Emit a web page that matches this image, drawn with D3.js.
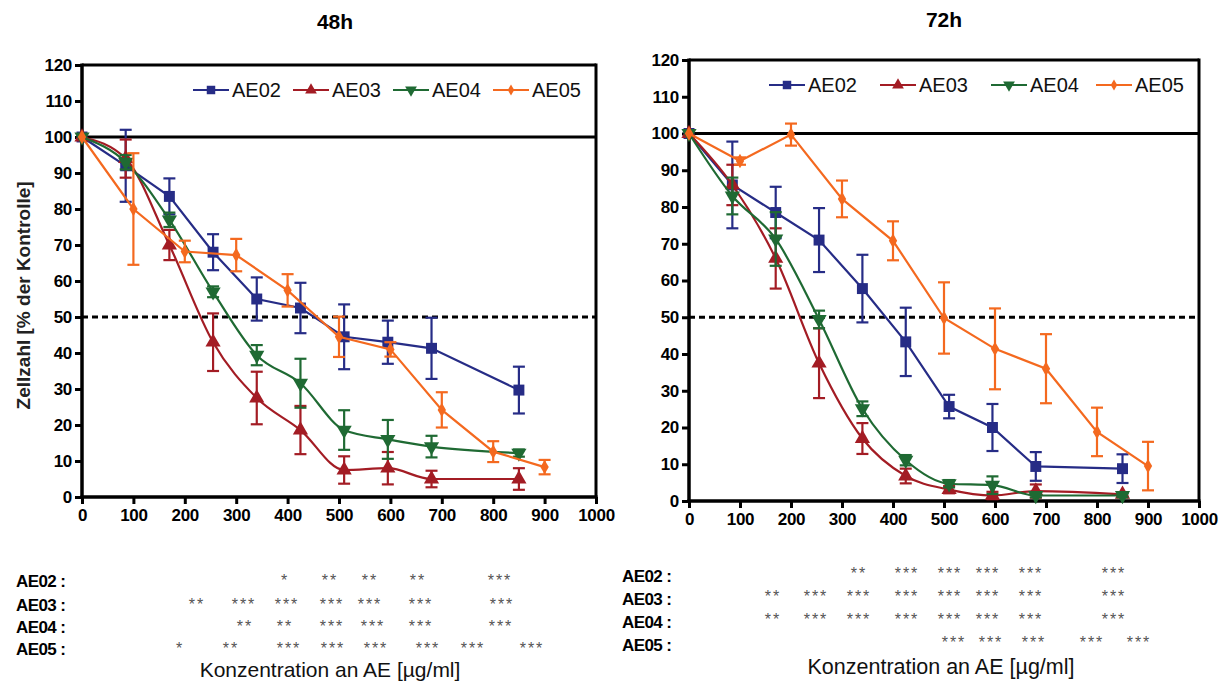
<!DOCTYPE html>
<html><head><meta charset="utf-8">
<script src="https://cdn.jsdelivr.net/npm/d3@7"></script>
<style>
body{margin:0;background:#fff;}
svg{display:block;font-family:"Liberation Sans",Arial,Helvetica,sans-serif;}
</style></head>
<body><svg id="c" width="1232" height="684"></svg>
<script>
// ---------------- DATA ----------------
const seriesNames = ["AE02","AE03","AE04","AE05"];
const concA = [0,85,170,255,340,425,510,595,680,850];   // AE02, AE03, AE04
const concB = [0,100,200,300,400,500,600,700,800,900];  // AE05
const yTicks = [0,10,20,30,40,50,60,70,80,90,100,110,120];
const xTicks = [0,100,200,300,400,500,600,700,800,900,1000];

// 48h
const h48_AE02 = [100,92,83.5,68,55,52.5,44.5,43,41.3,29.7];
const h48_AE02_sd = [0,10,5,5,6,7,9,6,8.5,6.5];
const h48_AE03 = [100,94,70,43,27.5,18.6,7.5,8,5,5];
const h48_AE03_sd = [0,5.3,4.2,8,7.3,6.7,3.8,4.5,2.3,3];
const h48_AE04 = [100,93,77,57,39.4,31.6,18.6,16,14,12.2];
const h48_AE04_sd = [0,2,2,1.5,2.8,6.8,5.5,5.4,3,1];
const h48_AE05 = [100,80,68.2,67.2,57.4,44.5,41,24.2,12.6,8.3];
const h48_AE05_sd = [0,15.5,3,4.5,4.5,5.6,2,4.9,2.9,2];

// 72h
const h72_AE02 = [100,86,78.5,71,57.8,43.3,25.7,20,9.4,8.8];
const h72_AE02_sd = [0,11.8,7,8.7,9.2,9.3,3.2,6.4,3.9,3.9];
const h72_AE03 = [100,86,66,37.5,17,6.8,3.1,1.5,2.7,1.8];
const h72_AE03_sd = [0,5.5,8.2,9.5,4.2,2,1,1,1.8,0.5];
const h72_AE04 = [100,83,71.3,49.4,25.1,11.1,4.7,4.3,1.5,1.5];
const h72_AE04_sd = [0,5,7.3,2.4,2,1.4,1,2.4,0.5,0.5];
const h72_AE05 = [100,92.5,99.7,82.2,70.8,49.8,41.4,36,18.8,9.5];
const h72_AE05_sd = [0,1,3,5,5.3,9.7,11,9.4,6.6,6.6];

// significance (stars per row, in table order)
const sig48_AE02 = ["*","**","**","**","***"];
const sig48_AE03 = ["**","***","***","***","***","***","***"];
const sig48_AE04 = ["**","**","***","***","***","***"];
const sig48_AE05 = ["*","**","***","***","***","***","***","***"];
const sig72_AE02 = ["**","***","***","***","***","***"];
const sig72_AE03 = ["**","***","***","***","***","***","***","***"];
const sig72_AE04 = ["**","***","***","***","***","***","***","***"];
const sig72_AE05 = ["***","***","***","***","***"];

const titles = ["48h","72h"];
const yLabel = "Zellzahl [% der Kontrolle]";
const xLabel = "Konzentration an AE [µg/ml]";

// ---------------- STYLE / LAYOUT ----------------
const colors = {AE02:"#262c86",AE03:"#a31c24",AE04:"#1f6a33",AE05:"#f4691f"};
const symbols = {AE02:d3.symbolSquare,AE03:d3.symbolTriangle,AE04:d3.symbolTriangle,AE05:d3.symbolDiamond};
const symSize = {AE02:120,AE03:100,AE04:100,AE05:60};
const rot = {AE02:0,AE03:0,AE04:180,AE05:0};
const curves = {AE02:d3.curveLinear,AE03:d3.curveMonotoneX,AE04:d3.curveMonotoneX,AE05:d3.curveLinear};

const svg = d3.select("#c");

const panels = [
  {title:titles[0], titleX:335, titleY:29, x:[82,596], y:[497,65],
   legendX:[193,293,393,493], legendY:90,
   data:{AE02:[concA,h48_AE02,h48_AE02_sd],AE03:[concA,h48_AE03,h48_AE03_sd],AE04:[concA,h48_AE04,h48_AE04_sd],AE05:[concB,h48_AE05,h48_AE05_sd]},
   sig:{AE02:sig48_AE02,AE03:sig48_AE03,AE04:sig48_AE04,AE05:sig48_AE05},
   sigX:{AE02:[285,330,370,418,500],AE03:[197,244,287,332,370,421,502],AE04:[245,285,332,373,421,501],AE05:[180,231,289,333,376,428,473,532]},
   sigLabelX:16, sigRowY:[581,605,627,649], starRowY:[577,601,623,645], xLabelX:330, xLabelY:677, xLabelSize:21},
  {title:titles[1], titleX:944, titleY:27, x:[689,1199], y:[501,60],
   legendX:[769,880,991,1096], legendY:85,
   data:{AE02:[concA,h72_AE02,h72_AE02_sd],AE03:[concA,h72_AE03,h72_AE03_sd],AE04:[concA,h72_AE04,h72_AE04_sd],AE05:[concB,h72_AE05,h72_AE05_sd]},
   sig:{AE02:sig72_AE02,AE03:sig72_AE03,AE04:sig72_AE04,AE05:sig72_AE05},
   sigX:{AE02:[859,907,950,988,1031,1114],AE03:[773,816,859,907,950,988,1031,1114],AE04:[773,816,859,907,950,988,1031,1114],AE05:[954,991,1034,1092,1139]},
   sigLabelX:622, sigRowY:[576,599,622,645], starRowY:[570,593,616,639], xLabelX:941, xLabelY:674, xLabelSize:21.5}
];

panels.forEach((p,pi)=>{
  const x = d3.scaleLinear([0,1000],p.x);
  const y = d3.scaleLinear([0,120],p.y);
  const g = svg.append("g");

  // title
  g.append("text").attr("x",p.titleX).attr("y",p.titleY).attr("text-anchor","middle")
    .attr("font-size",21).attr("font-weight","bold").text(p.title);

  // frame lines (top, right), 100% line, 50% dashed
  g.append("line").attr("x1",x(0)).attr("x2",x(1000)).attr("y1",y(120)).attr("y2",y(120)).attr("stroke","#000").attr("stroke-width",3);
  g.append("line").attr("x1",x(1000)).attr("x2",x(1000)).attr("y1",y(120)-1.5).attr("y2",y(0)).attr("stroke","#000").attr("stroke-width",3);
  g.append("line").attr("x1",x(0)).attr("x2",x(1000)).attr("y1",y(100)).attr("y2",y(100)).attr("stroke","#000").attr("stroke-width",3);
  g.append("line").attr("x1",x(0)).attr("x2",x(1000)).attr("y1",y(50)).attr("y2",y(50)).attr("stroke","#000").attr("stroke-width",3).attr("stroke-dasharray","6,4");

  // axes
  const ax = g.append("g").attr("transform",`translate(${x(0)},0)`)
    .call(d3.axisLeft(y).tickValues(yTicks).tickFormat(d3.format("d")).tickSize(7).tickSizeOuter(0).tickPadding(3));
  const bx = g.append("g").attr("transform",`translate(0,${y(0)})`)
    .call(d3.axisBottom(x).tickValues(xTicks).tickFormat(d3.format("d")).tickSize(7).tickSizeOuter(0).tickPadding(5));
  [ax,bx].forEach(a=>{
    a.attr("font-size",17).attr("font-family","'Liberation Sans',Arial,sans-serif").attr("font-weight","bold");
    a.select(".domain").attr("stroke-width",3.5);
    a.selectAll(".tick line").attr("stroke-width",3);
    a.selectAll(".tick text").attr("fill","#000").attr("letter-spacing","-0.3");
  });
  ax.select(".domain").attr("d",`M0,${y(120)-1.5}V${y(0)+1.5}`);
  bx.select(".domain").attr("d",`M${x(0)-1.5},0H${x(1000)+1.5}`);

  // series
  seriesNames.forEach(name=>{
    const [cx,vals,sd] = p.data[name];
    const pts = cx.map((c,i)=>({c,v:vals[i],e:sd[i]}));
    const col = colors[name];
    const sg = g.append("g");
    sg.append("path").datum(pts)
      .attr("d",d3.line().x(d=>x(d.c)).y(d=>y(d.v)).curve(curves[name]))
      .attr("fill","none").attr("stroke",col).attr("stroke-width",2.2);
    const eb = sg.selectAll("g.eb").data(pts.filter(d=>d.e>0)).join("g");
    eb.append("line").attr("x1",d=>x(d.c)).attr("x2",d=>x(d.c)).attr("y1",d=>y(d.v+d.e)).attr("y2",d=>y(d.v-d.e)).attr("stroke",col).attr("stroke-width",2.2);
    eb.append("line").attr("x1",d=>x(d.c)-6).attr("x2",d=>x(d.c)+6).attr("y1",d=>y(d.v+d.e)).attr("y2",d=>y(d.v+d.e)).attr("stroke",col).attr("stroke-width",2.2);
    eb.append("line").attr("x1",d=>x(d.c)-6).attr("x2",d=>x(d.c)+6).attr("y1",d=>y(d.v-d.e)).attr("y2",d=>y(d.v-d.e)).attr("stroke",col).attr("stroke-width",2.2);
    sg.selectAll("path.m").data(pts).join("path").attr("class","m")
      .attr("d",d3.symbol(symbols[name],symSize[name]))
      .attr("transform",d=>`translate(${x(d.c)},${y(d.v)}) rotate(${rot[name]})`)
      .attr("fill",col);
  });

  // legend
  seriesNames.forEach((name,i)=>{
    const lx = p.legendX[i], ly = p.legendY, col = colors[name];
    g.append("line").attr("x1",lx).attr("x2",lx+36).attr("y1",ly).attr("y2",ly).attr("stroke",col).attr("stroke-width",2.2);
    g.append("path").attr("d",d3.symbol(symbols[name],symSize[name]*0.6)())
      .attr("transform",`translate(${lx+18},${ly}) rotate(${rot[name]})`).attr("fill",col);
    g.append("text").attr("x",lx+39).attr("y",ly).attr("dy","0.36em").attr("font-size",20).attr("fill","#111").text(name);
  });

  // y label (left panel only)
  if(pi===0){
    g.append("text").attr("transform",`translate(23,${y(56)}) rotate(-90)`).attr("text-anchor","middle")
      .attr("dy","0.36em").attr("font-size",19).attr("font-weight","bold").attr("fill","#222").text(yLabel);
  }

  // significance table
  seriesNames.forEach((name,i)=>{
    const ry = p.sigRowY[i], sy = p.starRowY[i];
    g.append("text").attr("x",p.sigLabelX).attr("y",ry).attr("dy","0.36em").attr("font-size",17).attr("font-weight","bold").attr("letter-spacing","-0.6").text(name+" :");
    p.sig[name].forEach((s,j)=>{
      g.append("text").attr("x",p.sigX[name][j]).attr("y",sy+9).attr("text-anchor","middle")
        .attr("font-size",16).attr("letter-spacing","2").attr("fill","#555").text(s);
    });
  });
  g.append("text").attr("x",p.xLabelX).attr("y",p.xLabelY).attr("text-anchor","middle").attr("font-size",p.xLabelSize).attr("fill","#111").text(xLabel);
});
</script></body></html>
